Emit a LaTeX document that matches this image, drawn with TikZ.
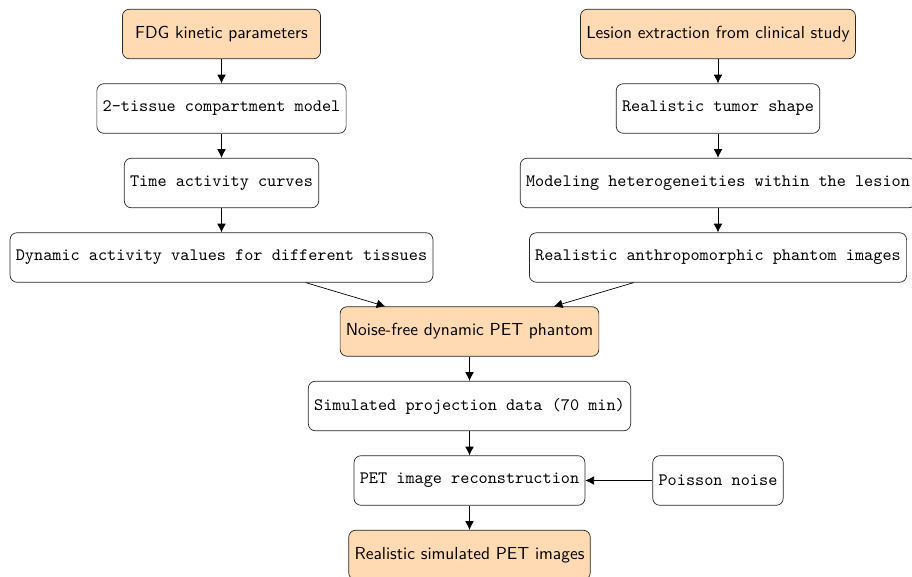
\documentclass[tikz,border=0pt]{standalone}
\usetikzlibrary{arrows.meta,positioning}
\definecolor{boxorange}{RGB}{255,218,178}
\begin{document}
\begin{tikzpicture}[x=0.5744pt,y=-0.5744pt,
  base/.style={draw=black!85,rounded corners=4pt,minimum height=1cm,inner sep=3.33pt,line width=0.4pt},
  ttbox/.style={base,fill=white,font=\ttfamily},
  sfbox/.style={base,fill=boxorange,font=\sffamily,minimum width=4cm},
  conn/.style={-{Latex[length=5pt,width=5pt]},line width=0.4pt}]
\useasboundingbox (0,0) rectangle (912,577);
% left column
\node[sfbox] (fdg) at (221.5,34) {FDG kinetic parameters};
\node[ttbox] (tis) at (221.5,108.5) {2-tissue compartment model};
\node[ttbox] (tac) at (221.5,183) {Time activity curves};
\node[ttbox] (dyn) at (221.5,257.5) {Dynamic activity values for different tissues};
% right column
\node[sfbox] (les) at (718,34) {Lesion extraction from clinical study};
\node[ttbox] (tum) at (718,108.5) {Realistic tumor shape};
\node[ttbox] (het) at (718,183) {Modeling heterogeneities within the lesion};
\node[ttbox] (ant) at (718,257.5) {Realistic anthropomorphic phantom images};
% centre column
\node[sfbox] (nf) at (469.5,331.5) {Noise-free dynamic PET phantom};
\node[ttbox] (sim) at (469.5,406) {Simulated projection data (70 min)};
\node[ttbox] (rec) at (469.5,480.5) {PET image reconstruction};
\node[ttbox] (poi) at (718,480.5) {Poisson noise};
\node[sfbox] (out) at (469.5,555) {Realistic simulated PET images};
% connectors
\draw[conn] (fdg) -- (tis);
\draw[conn] (tis) -- (tac);
\draw[conn] (tac) -- (dyn);
\draw[conn] (les) -- (tum);
\draw[conn] (tum) -- (het);
\draw[conn] (het) -- (ant);
\draw[conn] (dyn) -- (nf);
\draw[conn] (ant) -- (nf);
\draw[conn] (nf) -- (sim);
\draw[conn] (sim) -- (rec);
\draw[conn] (poi) -- (rec);
\draw[conn] (rec) -- (out);
\end{tikzpicture}
\end{document}
